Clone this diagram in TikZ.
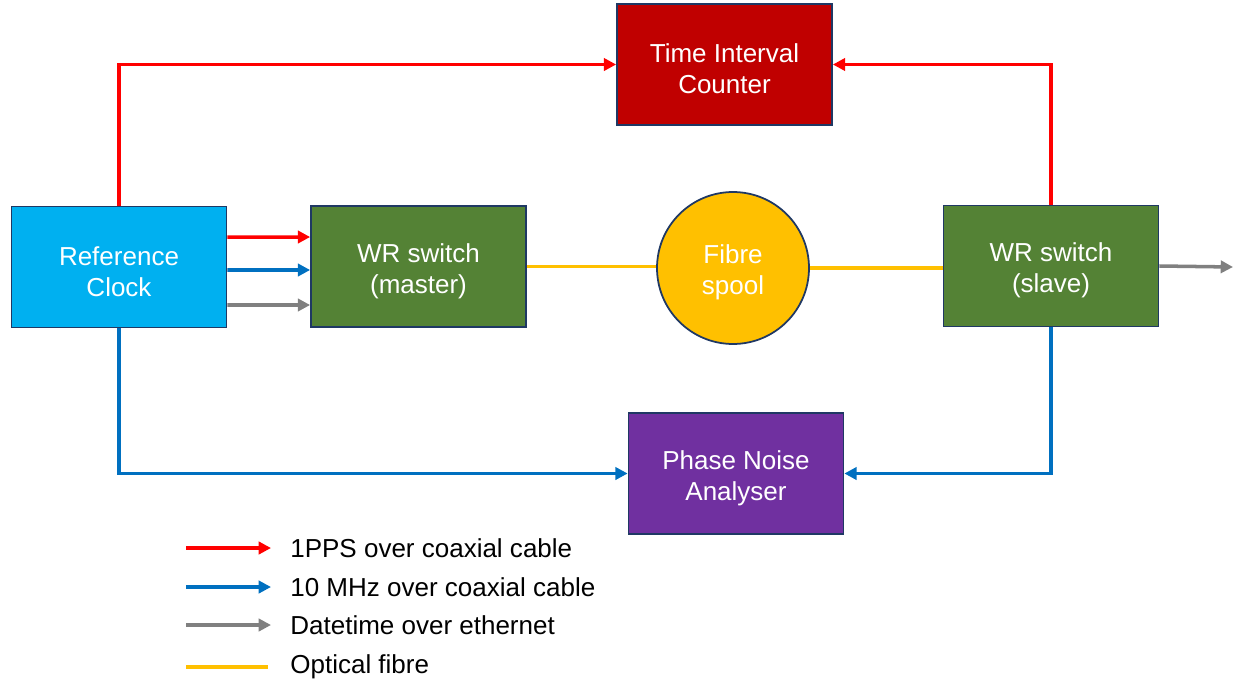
\documentclass[tikz,border=0pt]{standalone}
\usepackage{fontspec}
\setmainfont{Liberation Sans}
\usetikzlibrary{arrows.meta, calc}
\definecolor{ppsRed}{HTML}{FF0000}
\definecolor{mhzBlue}{HTML}{0070C0}
\definecolor{ethGray}{HTML}{808080}
\definecolor{fibreYellow}{HTML}{FFC000}
\definecolor{boxEdge}{HTML}{1F3864}
\definecolor{clockBlue}{HTML}{00B0F0}
\definecolor{wrGreen}{HTML}{548235}
\definecolor{ticRed}{HTML}{C00000}
\definecolor{pnaPurple}{HTML}{7030A0}
\tikzset{
unitBox/.style={draw=boxEdge, line width=1pt, fill=#1, text=white, align=center,
    minimum width=4.3cm, minimum height=2.42cm, inner sep=0pt,
    font=\fontsize{14.8}{17.6}\selectfont},
ppsLine/.style={ppsRed, line width=2pt, -{Triangle[length=7pt,width=7pt]}},
mhzLine/.style={mhzBlue, line width=2pt, -{Triangle[length=7pt,width=7pt]}},
ethLine/.style={ethGray, line width=2pt, -{Triangle[length=7pt,width=7pt]}},
fibreLine/.style={fibreYellow, line width=2pt},
legendText/.style={anchor=west, inner sep=0pt, font=\fontsize{14.8}{17.6}\selectfont}
}

\begin{document}
\begin{tikzpicture}[x=0.02cm, y=-0.02cm]
    \useasboundingbox (0,0) rectangle (1234,683);
    % blocks
    \node[unitBox=clockBlue] (refclk) at (119,267) {\strut\\[-14pt]Reference\\Clock};
    \node[unitBox=wrGreen] (master) at (418.5,266.5) {\strut\\[-14pt]WR switch\\(master)};
    \node[unitBox=wrGreen] (slave) at (1051,266) {\strut\\[-14pt]WR switch\\(slave)};
    \node[unitBox=ticRed] (tic) at (724.5,64.5) {\strut\\[-14pt]Time Interval\\Counter};
    \node[unitBox=pnaPurple] (pna) at (736,473.5) {\strut\\[-14pt]Phase Noise\\Analyser};
    \node[circle, draw=boxEdge, line width=1pt, fill=fibreYellow, text=white,
        minimum size=3.04cm, inner sep=0pt, align=center,
        font=\fontsize{14.8}{17.6}\selectfont] (spool) at (733,268) {\strut\\[-14pt]Fibre\\spool};
    \coordinate (ethOut) at (1233,267);

    % connections
    \draw[ppsLine] (refclk.north) |- (tic.west);
    \draw[ppsLine] (slave.north) |- (tic.east);
    \draw[mhzLine] (refclk.south) |- (pna.west);
    \draw[mhzLine] (slave.south) |- (pna.east);
    \draw[ppsLine] ([yshift=0.6cm]refclk.east) -- ([yshift=0.59cm]master.west);
    \draw[mhzLine] ([yshift=-0.06cm]refclk.east) -- ([yshift=-0.07cm]master.west);
    \draw[ethLine] ([yshift=-0.76cm]refclk.east) -- ([yshift=-0.77cm]master.west);
    \draw[fibreLine] (master.east) -- (master.east -| spool.west);
    \draw[fibreLine] (spool.east) -- (spool.east -| slave.west);
    \draw[ethLine] (slave.east) -- (ethOut);

    % legend
    \coordinate (ppsA) at (186,548); \coordinate (ppsB) at (271,548);
    \coordinate (mhzA) at (186,587); \coordinate (mhzB) at (271,587);
    \coordinate (ethA) at (186,625); \coordinate (ethB) at (271,625);
    \coordinate (fibA) at (186,667); \coordinate (fibB) at (268,667);
    \draw[ppsLine] (ppsA) -- (ppsB);
    \draw[mhzLine] (mhzA) -- (mhzB);
    \draw[ethLine] (ethA) -- (ethB);
    \draw[fibreLine] (fibA) -- (fibB);
    \node[legendText] (ppsTxt) at (290,548) {1PPS over coaxial cable};
    \node[legendText] (mhzTxt) at (290,587) {10 MHz over coaxial cable};
    \node[legendText] (ethTxt) at (290,625) {Datetime over ethernet};
    \node[legendText] (fibTxt) at (290,667) {Optical fibre};
\end{tikzpicture}
\end{document}
